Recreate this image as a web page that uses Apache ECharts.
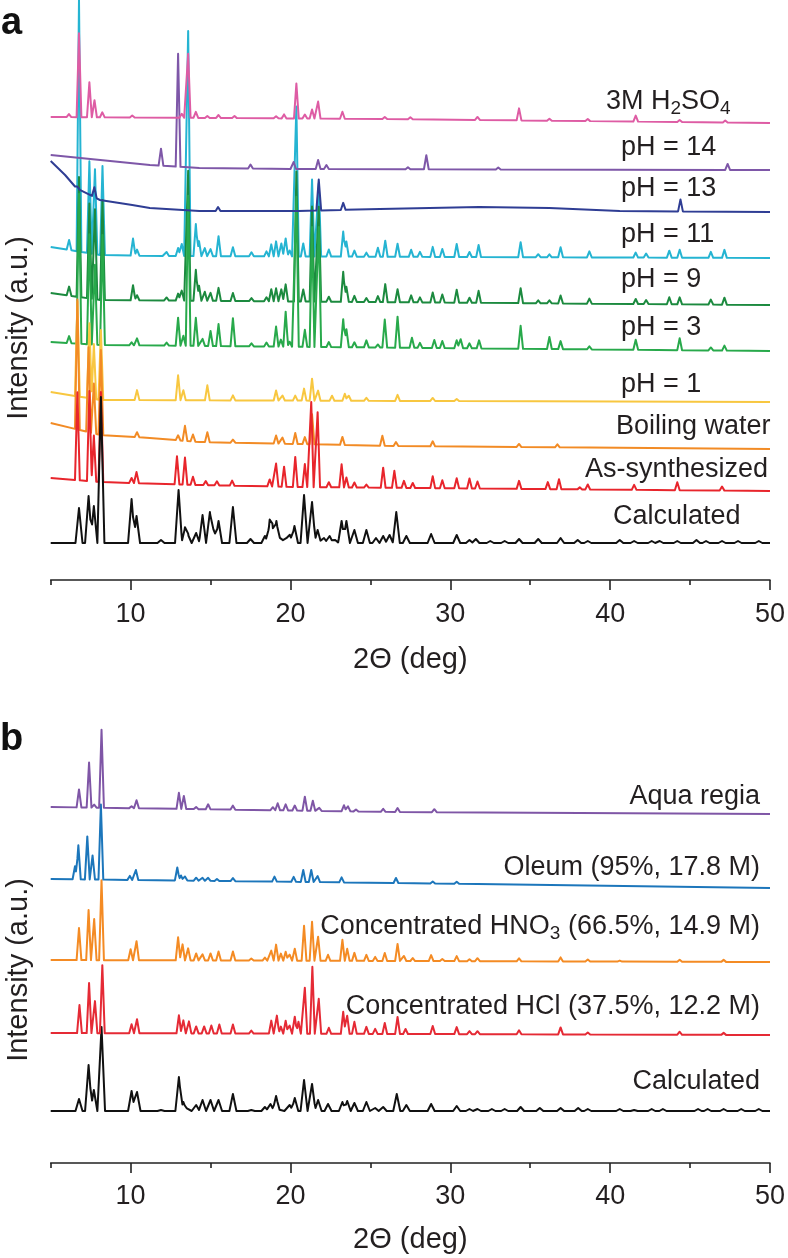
<!DOCTYPE html>
<html>
<head>
<meta charset="utf-8">
<script src="https://cdn.jsdelivr.net/npm/echarts@6/dist/echarts.min.js"></script>
<style>
html, body { margin: 0; background: #fff; }
#chart { width: 788px; height: 1258px; }
</style>
</head>
<body>
<div id="chart"></div>
<script>
// x axis (2θ)
const xMin = 5, xMax = 50;
const majorTicks = [10, 20, 30, 40, 50];
const minorTicks = [5, 15, 25, 35, 45];

// ---- panel a ----  baselines are [2θ, offset], peaks are [2θ, height]
const h2so4Base = [[5, 463], [26, 461], [50, 457]];
const h2so4Peaks = [[6.14,3],[6.77,84],[7.42,35],[7.74,17],[8.23,5],[10.1,2],[13.2,4],[13.6,64],[14.08,6],[14.8,2],[15.5,3],[16.5,2],[19.1,2],[19.6,4],[20.37,35],[20.9,4],[21.35,9],[21.73,17],[23.25,7],[25.9,2],[27.5,2],[31.7,3],[34.3,12],[36.2,2],[38.6,2],[41.6,6],[44.35,2],[47.2,2]];

const ph14Base = [[5, 425], [8.1, 420], [11.2, 415], [14.3, 412], [20, 411], [50, 410]];
const ph14Peaks = [[11.9,17],[12.97,113],[17.5,4],[20.2,7],[21.73,9],[22.25,4],[27.35,2],[28.5,14],[33.0,2],[47.35,6]];

const ph13Base = [[5, 419], [5.9, 405], [6.6, 392], [8.08, 380], [10.1, 375], [11.2, 372], [14.3, 369], [20.5, 369], [25.6, 371], [31.8, 373], [36.2, 372], [40.6, 369], [50, 368]];
const ph13Peaks = [[6.67,2],[7.73,10],[15.47,4],[21.77,31],[23.3,7],[44.4,12]];

const ph11Base = [[5, 333], [8.1, 325], [12, 324], [50, 322]];
const ph11Peaks = [[6.15,10],[6.77,252],[7.42,92],[7.77,85],[8.24,89],[10.15,17],[10.4,6],[12.25,4],[12.97,8],[13.2,12],[13.6,225],[14.08,32],[14.28,15],[14.64,8],[15.0,7],[15.5,20],[16.4,9],[17.56,4],[18.5,5],[18.8,12],[19.1,15],[19.43,13],[19.7,18],[19.95,6],[20.37,150],[20.8,13],[21.35,77],[21.77,73],[22.4,7],[23.3,25],[23.5,15],[24.0,6],[24.75,4],[25.47,9],[25.93,16],[26.7,13],[27.55,7],[28.1,5],[28.9,10],[29.5,8],[30.4,13],[31.2,5],[31.77,12],[34.4,15],[35.5,3],[36.2,3],[36.9,10],[38.7,6],[41.6,5],[42.25,4],[43.7,7],[44.35,8],[46.3,6],[47.15,8]];

const ph9Base = [[5, 287], [8.1, 280], [50, 275]];
const ph9Peaks = [[6.15,9],[6.77,120],[7.42,95],[7.77,90],[8.24,100],[10.15,15],[10.4,5],[12.25,3],[12.97,7],[13.2,10],[13.6,130],[14.08,31],[14.28,15],[14.64,9],[15.0,8],[15.5,13],[16.4,8],[17.56,3],[18.5,4],[18.8,12],[19.1,13],[19.43,12],[19.7,17],[20.37,130],[20.8,12],[21.35,95],[21.77,95],[22.4,5],[23.3,30],[23.5,15],[24.0,6],[24.75,4],[25.47,6],[25.93,18],[26.7,13],[27.55,7],[28.1,5],[28.9,10],[29.5,8],[30.4,13],[31.2,5],[31.77,12],[34.4,15],[35.5,3],[36.2,3],[36.9,8],[38.7,5],[41.6,5],[42.25,4],[43.7,7],[44.35,7],[46.3,5],[47.15,7]];

const ph3Base = [[5, 238], [8.1, 235], [50, 229]];
const ph3Peaks = [[6.15,7],[6.77,150],[7.42,110],[7.77,80],[8.24,110],[10.06,3],[10.4,7],[12.25,3],[12.97,28],[13.3,10],[13.6,150],[14.08,28],[14.5,7],[15.0,15],[15.5,22],[16.4,28],[17.56,3],[18.5,4],[19.1,20],[19.4,7],[19.7,35],[19.95,5],[20.37,150],[20.9,17],[21.35,120],[21.77,120],[22.4,5],[23.3,28],[23.5,18],[24.0,5],[24.75,7],[25.47,3],[25.9,28],[26.7,31],[27.6,10],[28.1,5],[29.0,8],[29.5,7],[30.4,8],[30.65,9],[31.2,5],[31.8,8],[34.4,23],[36.2,12],[36.9,8],[38.7,3],[41.6,10],[44.35,12],[46.3,3],[47.15,5]];

const ph1Base = [[5, 188], [8.1, 180], [50, 178]];
const ph1Peaks = [[6.67,95],[7.42,75],[7.7,55],[8.14,70],[10.4,10],[12.97,25],[13.3,10],[14.8,15],[16.4,5],[19.1,10],[19.5,5],[20.3,5],[20.85,12],[21.35,22],[21.73,10],[22.6,5],[23.4,7],[23.65,5],[24.75,3],[26.7,6],[28.9,3],[30.4,2]];

const boilBase = [[5, 157], [8.1, 145], [11.2, 142], [14.3, 138], [20.5, 136], [26.6, 134], [50, 131]];
const boilPeaks = [[6.67,130],[7.37,85],[7.7,50],[8.14,85],[10.4,5],[12.97,5],[13.4,15],[13.9,7],[14.8,10],[16.4,3],[19.1,8],[19.5,6],[20.3,11],[20.9,7],[21.35,30],[23.25,8],[25.75,10],[26.6,4],[28.9,5],[34.3,3],[36.7,3]];

const asSynBase = [[5, 102], [8.1, 98], [14.3, 95], [20.5, 93], [50, 89]];
const asSynPeaks = [[6.67,88],[7.42,90],[7.7,46],[8.14,90],[10.06,5],[10.37,11],[12.9,28],[13.4,27],[13.9,8],[14.7,4],[15.4,4],[16.35,5],[18.7,7],[19.1,23],[19.6,20],[20.3,30],[20.9,23],[21.3,85],[21.7,75],[22.4,5],[23.2,23],[23.5,10],[24.0,5],[24.75,3],[25.8,20],[26.5,17],[27.1,7],[27.65,5],[28.9,12],[29.5,8],[30.4,10],[31.2,10],[31.7,7],[34.3,8],[36.1,7],[36.8,10],[38.1,2],[38.6,5],[41.5,5],[44.2,8],[47.0,4]];

const calcABase = [[5, 37], [50, 37]];
const calcAPeaks = [[6.77,35],[7.37,47],[7.7,37],[8.14,146],[10.06,44],[10.37,27],[11.9,3],[13.0,53],[13.4,15],[13.6,8],[14.1,10],[14.5,28],[14.96,31],[15.2,15],[15.5,22],[16.4,36],[17.5,4],[18.4,7],[18.7,20],[18.87,15],[19.12,22],[19.4,7],[19.75,5],[19.96,8],[20.25,17],[20.85,48],[21.35,41],[21.7,13],[22.1,5],[22.45,7],[22.8,3],[23.2,22],[23.5,22],[24.0,13],[24.75,13],[25.35,5],[25.8,7],[26.2,8],[26.62,31],[27.25,7],[28.8,9],[30.4,8],[31.2,3],[31.6,4],[32.5,2],[33.4,2],[34.3,4],[35.5,4],[36.9,5],[37.97,3],[38.6,2],[40.6,3],[41.5,2],[42.6,2],[43.1,2],[44.2,2],[45.4,3],[46.0,2],[47.0,2],[48.0,2],[49.3,2]];

// ---- panel b ----
const aquaBase = [[5, 356], [26.6, 351], [50, 349]];
const aquaPeaks = [[6.77,18],[7.4,45],[7.72,3],[8.18,78],[10.06,2],[10.37,8],[13.02,16],[13.33,13],[14.1,2],[14.85,5],[16.4,4],[18.9,3],[19.2,7],[19.7,6],[20.27,5],[20.9,14],[21.4,10],[21.8,3],[23.35,6],[23.6,5],[24.1,2],[25.8,3],[26.7,4],[29.0,3]];

const oleumBase = [[5, 284], [26.6, 280], [50, 275]];
const oleumPeaks = [[6.52,13],[6.73,34],[7.29,43],[7.62,24],[8.14,75],[9.95,4],[10.33,10],[12.92,13],[13.15,5],[13.4,4],[14.1,3],[14.5,3],[14.85,3],[15.4,2],[16.4,3],[19.0,5],[20.2,5],[20.8,12],[21.3,12],[21.7,6],[23.2,5],[26.6,5],[28.9,2],[30.4,2]];

const hno3Base = [[5, 203], [50, 201]];
const hno3Peaks = [[6.77,32],[7.37,50],[7.72,41],[8.18,80],[10.0,11],[10.37,19],[12.97,23],[13.25,16],[13.6,12],[14.1,7],[14.5,6],[15.0,7],[15.5,9],[16.4,9],[17.55,2],[18.4,3],[18.8,10],[19.1,16],[19.4,7],[19.7,9],[19.95,6],[20.27,12],[20.85,35],[21.35,39],[21.73,24],[22.35,6],[23.25,21],[23.55,12],[24.0,8],[24.75,6],[25.3,4],[25.9,8],[26.7,17],[27.1,5],[27.65,3],[28.8,6],[29.5,2],[30.4,5],[31.2,2],[31.7,3],[34.3,3],[36.9,4],[38.6,2],[40.6,1],[44.35,2],[47.1,2]];

const hclBase = [[5, 130], [50, 128]];
const hclPeaks = [[6.8,28],[7.4,50],[7.77,32],[8.23,68],[10.06,9],[10.4,14],[13.02,18],[13.3,13],[13.65,12],[14.1,7],[14.6,7],[15.05,8],[15.55,9],[16.4,9],[17.55,3],[18.8,13],[19.15,18],[19.4,7],[19.7,13],[19.95,8],[20.27,17],[20.5,12],[20.9,46],[21.37,67],[21.77,35],[22.4,6],[23.3,22],[23.55,18],[24.0,12],[24.75,7],[25.3,5],[25.9,11],[26.7,17],[27.2,5],[28.9,8],[30.4,7],[31.2,3],[31.7,3],[34.3,4],[36.9,7],[38.6,2],[44.35,3],[47.1,2]];

const calcBBase = [[5, 52], [50, 52]];
const calcBPeaks = [[6.77,12],[7.37,46],[7.7,21],[8.18,84],[10.06,20],[10.4,19],[11.9,1],[13.02,34],[13.3,9],[13.6,4],[14.1,6],[14.5,11],[15.0,11],[15.5,11],[16.4,17],[17.55,1],[18.4,4],[18.75,7],[19.1,15],[19.4,2],[19.95,6],[20.27,13],[20.85,31],[21.35,27],[21.73,11],[22.35,7],[23.25,9],[23.55,10],[24.0,8],[24.75,9],[25.3,3],[25.8,4],[26.65,17],[27.25,6],[28.8,7],[30.4,5],[31.2,2],[31.7,2],[32.6,2],[33.4,2],[34.4,4],[35.6,3],[36.9,3],[38.0,3],[38.6,2],[40.6,2],[41.5,1],[42.6,2],[43.3,2],[45.5,2],[46.1,2],[47.1,2],[48.2,2],[49.3,2]];

const FONT = 'Liberation Sans, Arial, Helvetica, sans-serif';
const TXT = '#231f20';

function baseAt(base, x) {
  for (let i = 1; i < base.length; i++) {
    if (x <= base[i][0]) {
      const [x0, y0] = base[i - 1], [x1, y1] = base[i];
      return y0 + (y1 - y0) * (x - x0) / (x1 - x0);
    }
  }
  return base[base.length - 1][1];
}

// polyline of the trace: baseline knots plus a narrow spike for each peak
function trace(base, peaks, w) {
  const xs = new Set([xMin, xMax]);
  base.forEach(b => xs.add(b[0]));
  peaks.forEach(p => { xs.add(p[0] - w); xs.add(p[0]); xs.add(p[0] + w); });
  return [...xs].filter(x => x >= xMin && x <= xMax).sort((a, b) => a - b).map(x => {
    let y = baseAt(base, x);
    peaks.forEach(p => {
      const d = Math.abs(x - p[0]);
      if (d < w) y += p[1] * (1 - d / w);
    });
    return [x, y];
  });
}

function line(name, base, peaks, w, color, grid) {
  return {
    name, type: 'line', data: trace(base, peaks, w),
    xAxisIndex: grid * 2, yAxisIndex: grid,
    symbol: 'none', lineStyle: { color, width: 2, join: 'round' },
    silent: true, animation: false
  };
}

function xAxes(grid, nameGap, margin) {
  const axisStyle = { color: '#222', width: 1.6 };
  return [{
    gridIndex: grid, type: 'value', min: xMin, max: xMax, interval: 5,
    position: 'bottom',
    axisLine: { lineStyle: axisStyle },
    axisTick: { customValues: majorTicks, length: 10, lineStyle: axisStyle },
    axisLabel: { customValues: majorTicks, fontSize: 27, color: TXT, margin, fontFamily: FONT },
    splitLine: { show: false },
    name: '2Θ (deg)', nameLocation: 'middle', nameGap,
    nameTextStyle: { fontSize: 29, color: TXT, fontFamily: FONT }
  }, {
    gridIndex: grid, type: 'value', min: xMin, max: xMax, interval: 5,
    position: 'bottom', offset: 0,
    axisLine: { show: false },
    axisTick: { customValues: minorTicks, length: 5, lineStyle: axisStyle },
    axisLabel: { show: false },
    splitLine: { show: false }
  }];
}

function label(text, x, y, align) {
  return {
    type: 'text', x, y, silent: true,
    style: {
      text, fill: TXT, font: '27px ' + FONT, lineHeight: 32,
      align, verticalAlign: 'middle', textAlign: align, textVerticalAlign: 'middle',
      rich: { s: { fontSize: 19, lineHeight: 10, verticalAlign: 'bottom', fill: TXT, fontFamily: FONT } }
    }
  };
}

function vertical(text, x, y) {
  return {
    type: 'text', x, y, rotation: Math.PI / 2, silent: true,
    style: { text, fill: TXT, font: '29px ' + FONT, align: 'center', verticalAlign: 'middle', textAlign: 'center', textVerticalAlign: 'middle' }
  };
}

function letter(text, x, y) {
  return {
    type: 'text', x, y, silent: true,
    style: { text, fill: '#111', font: 'bold 38px ' + FONT, align: 'left', verticalAlign: 'middle', textAlign: 'left', textVerticalAlign: 'middle' }
  };
}

const chart = echarts.init(document.getElementById('chart'));
chart.setOption({
  animation: false,
  backgroundColor: '#fff',
  grid: [
    { left: 50.7, right: 17.3, top: 0, bottom: 678 },
    { left: 50.7, right: 17.3, top: 680, bottom: 95 }
  ],
  xAxis: [...xAxes(0, 65, 21), ...xAxes(1, 62, 20)],
  yAxis: [
    { gridIndex: 0, type: 'value', min: 0, max: 580, show: false },
    { gridIndex: 1, type: 'value', min: 0, max: 483, show: false }
  ],
  series: [
    line('pH = 11', ph11Base, ph11Peaks, 0.15, '#25b4d2', 0),
    line('pH = 9', ph9Base, ph9Peaks, 0.15, '#1c8a3f', 0),
    line('pH = 3', ph3Base, ph3Peaks, 0.15, '#28a94b', 0),
    line('pH = 1', ph1Base, ph1Peaks, 0.15, '#f8c740', 0),
    line('Boiling water', boilBase, boilPeaks, 0.15, '#f28b25', 0),
    line('As-synthesized', asSynBase, asSynPeaks, 0.15, '#e8252c', 0),
    line('Calculated', calcABase, calcAPeaks, 0.22, '#111111', 0),
    line('pH = 13', ph13Base, ph13Peaks, 0.15, '#2f3d94', 0),
    line('pH = 14', ph14Base, ph14Peaks, 0.15, '#7e57a8', 0),
    line('3M H2SO4', h2so4Base, h2so4Peaks, 0.15, '#de5ca4', 0),

    line('Calculated', calcBBase, calcBPeaks, 0.22, '#111111', 1),
    line('Concentrated HCl', hclBase, hclPeaks, 0.15, '#e52a35', 1),
    line('Concentrated HNO3', hno3Base, hno3Peaks, 0.15, '#f48b24', 1),
    line('Oleum', oleumBase, oleumPeaks, 0.15, '#1c76bb', 1),
    line('Aqua regia', aquaBase, aquaPeaks, 0.15, '#7f56a6', 1)
  ],
  graphic: [
    letter('a', 1, 24),
    letter('b', 0, 740),
    vertical('Intensity (a.u.)', 19, 328),
    vertical('Intensity (a.u.)', 19, 970),
    label('3M H{s|2}SO{s|4}', 606, 102, 'left'),
    label('pH = 14', 621, 148, 'left'),
    label('pH = 13', 621, 189, 'left'),
    label('pH = 11', 621, 235, 'left'),
    label('pH = 9', 621, 280, 'left'),
    label('pH = 3', 621, 328, 'left'),
    label('pH = 1', 621, 385, 'left'),
    label('Boiling water', 616, 427, 'left'),
    label('As-synthesized', 585, 470, 'left'),
    label('Calculated', 613, 517, 'left'),
    label('Aqua regia', 760, 797, 'right'),
    label('Oleum (95%, 17.8 M)', 760, 868, 'right'),
    label('Concentrated HNO{s|3} (66.5%, 14.9 M)', 760, 927, 'right'),
    label('Concentrated HCl (37.5%, 12.2 M)', 760, 1007, 'right'),
    label('Calculated', 760, 1082, 'right')
  ]
});
</script>
</body>
</html>
